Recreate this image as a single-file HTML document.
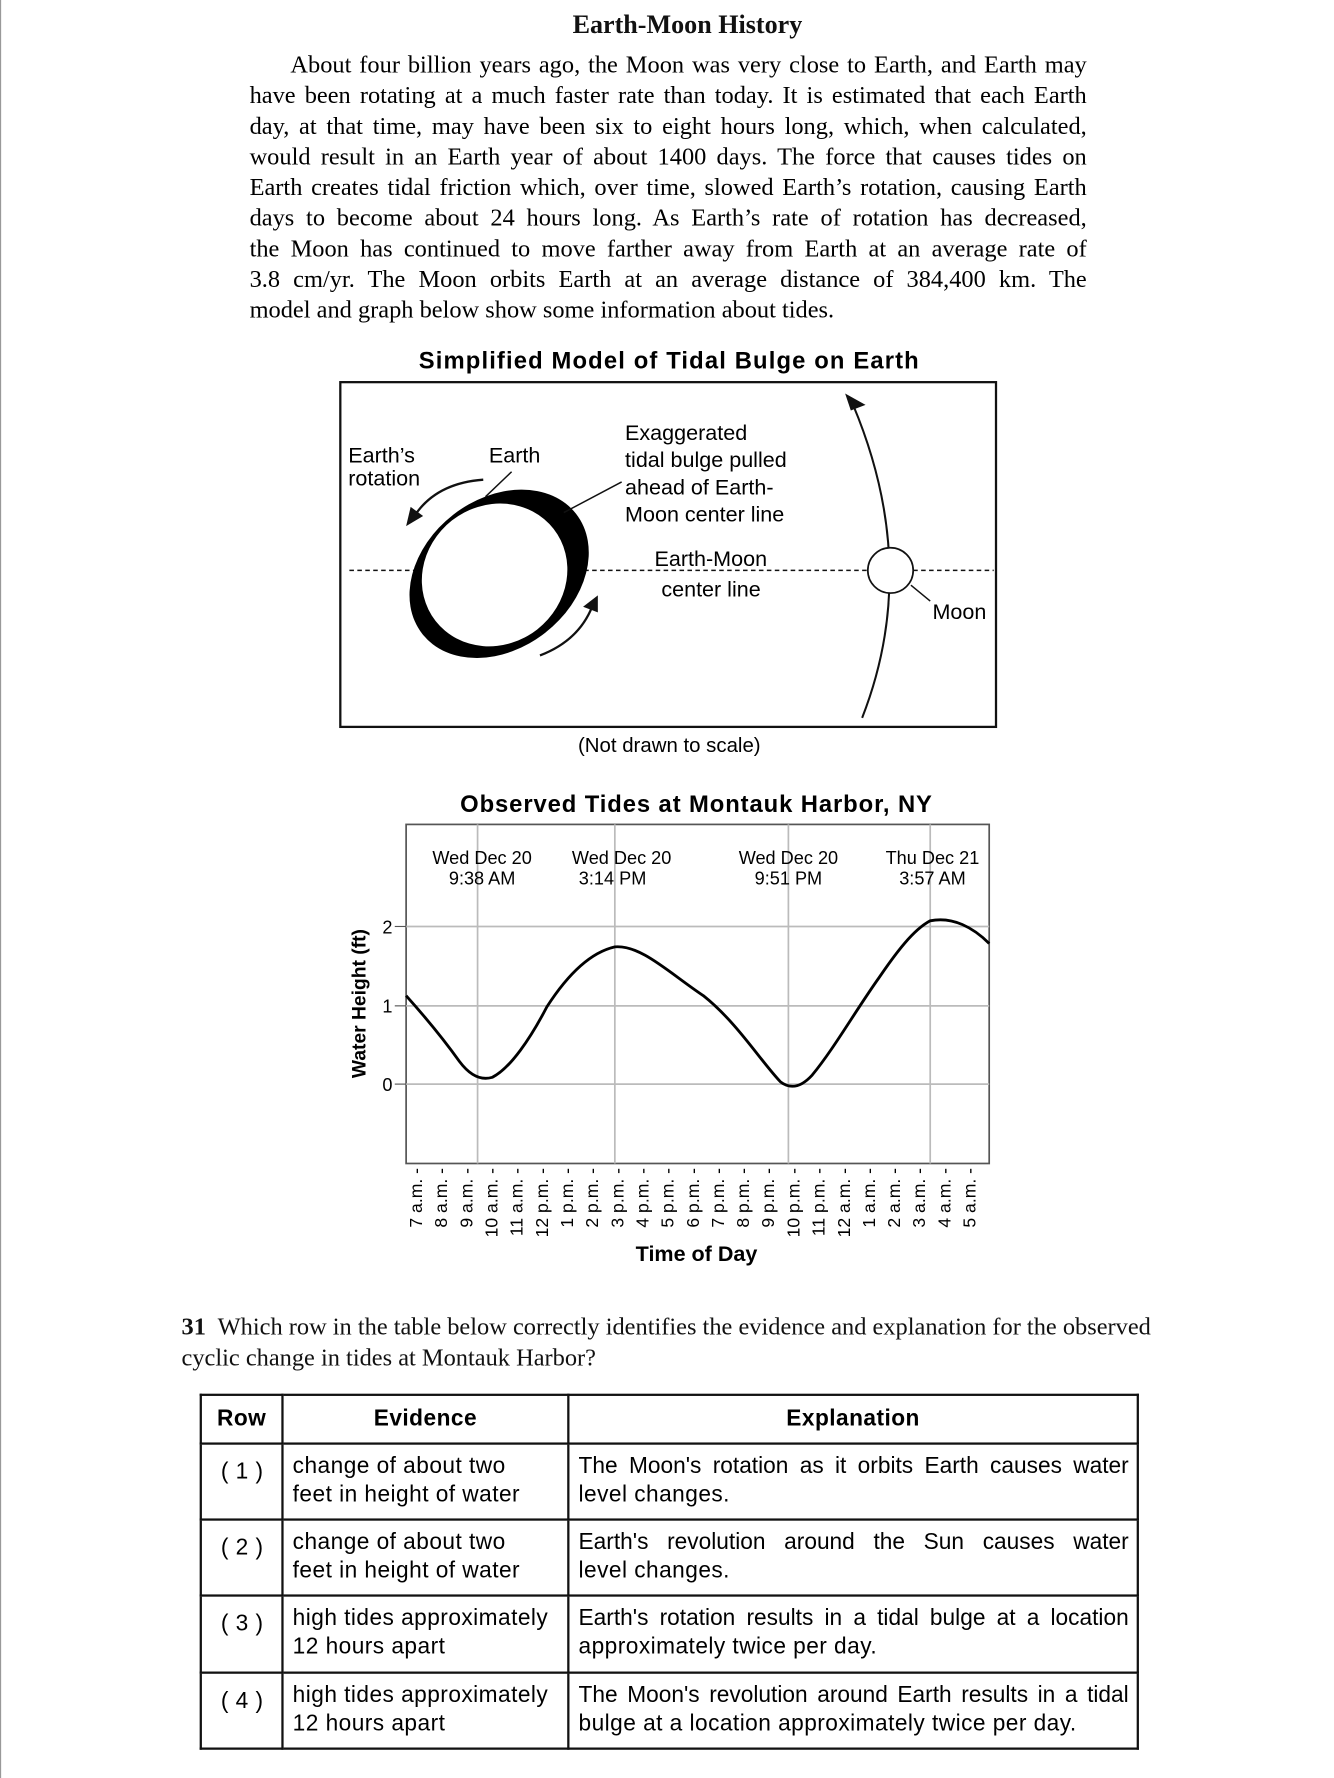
<!DOCTYPE html>
<html><head><meta charset="utf-8"><style>
html,body{margin:0;padding:0;background:#fff;}
body{width:1334px;height:1778px;overflow:hidden;position:relative;}
#w{position:absolute;left:0;top:0;width:1176px;height:1568px;transform:scale(1.1344,1.134);transform-origin:0 0;}
.a{position:absolute;white-space:nowrap;}
.ser{font-family:"Liberation Serif",serif;font-size:21.5px;color:#111;}
.p{position:absolute;left:220px;width:738px;font-family:"Liberation Serif",serif;font-size:21.5px;text-align:justify;text-align-last:justify;white-space:nowrap;line-height:27px;}
table{position:absolute;left:176px;top:1229px;width:828px;border-collapse:collapse;table-layout:fixed;font-family:"Liberation Sans",sans-serif;font-size:20px;letter-spacing:0.4px;}
td{border:2px solid #111;vertical-align:top;line-height:25px;padding:7px 7px 0 8px;}
.j{text-align:justify;text-align-last:justify;white-space:nowrap;letter-spacing:0;}
.n{white-space:nowrap;}
</style></head><body><div id="w">
<div style="position:absolute;left:0;top:0;width:1px;height:1568px;background:#999"></div>
<div class="a ser" style="left:0;width:1212px;text-align:center;top:9px;font-weight:bold;font-size:23px;">Earth-Moon History</div>
<div class="p" style="top:44px;left:256px;width:702px;">About four billion years ago, the Moon was very close to Earth, and Earth may</div>
<div class="p" style="top:71px;">have been rotating at a much faster rate than today. It is estimated that each Earth</div>
<div class="p" style="top:98px;">day, at that time, may have been six to eight hours long, which, when calculated,</div>
<div class="p" style="top:125px;">would result in an Earth year of about 1400 days. The force that causes tides on</div>
<div class="p" style="top:152px;">Earth creates tidal friction which, over time, slowed Earth’s rotation, causing Earth</div>
<div class="p" style="top:179px;">days to become about 24 hours long. As Earth’s rate of rotation has decreased,</div>
<div class="p" style="top:206px;">the Moon has continued to move farther away from Earth at an average rate of</div>
<div class="p" style="top:233px;">3.8 cm/yr. The Moon orbits Earth at an average distance of 384,400 km. The</div>
<div class="p" style="top:260px;text-align-last:left;">model and graph below show some information about tides.</div>

<svg style="position:absolute;left:0;top:0" width="1176" height="1568" font-family="Liberation Sans, sans-serif">
<text x="590" y="325" text-anchor="middle" font-weight="bold" font-size="21" letter-spacing="1">Simplified Model of Tidal Bulge on Earth</text>
<rect x="300" y="337" width="578" height="304" fill="none" stroke="#111" stroke-width="2"/>
<g stroke="#111" stroke-width="1.3" stroke-dasharray="4,3"><line x1="308" y1="503" x2="385" y2="503"/><line x1="515" y1="503" x2="765" y2="503"/><line x1="805" y1="503" x2="876" y2="503"/></g>
<ellipse cx="440" cy="506" rx="86" ry="66" transform="rotate(-38 440 506)" fill="#000"/>
<ellipse cx="436" cy="507" rx="66" ry="61" transform="rotate(-38 436 507)" fill="#fff"/>
<g font-size="19"><text x="307" y="408">Earth’s</text><text x="307" y="428">rotation</text><text x="431" y="408">Earth</text>
<text x="551" y="388">Exaggerated</text><text x="551" y="412">tidal bulge pulled</text><text x="551" y="436">ahead of Earth-</text><text x="551" y="460">Moon center line</text>
<text x="577" y="499">Earth-Moon</text><text x="583" y="526">center line</text><text x="822" y="546">Moon</text>
<text x="590" y="663" text-anchor="middle" font-size="18">(Not drawn to scale)</text></g>
<g stroke="#111" stroke-width="1.3" fill="none"><line x1="451" y1="416" x2="428" y2="438"/><line x1="548" y1="425" x2="497" y2="452"/><line x1="803" y1="516" x2="820" y2="530"/>
<path d="M426,423 Q385,426 366,454" stroke-width="2"/><path d="M476,578 Q510,565 522,535" stroke-width="2"/>
<path d="M760,633 Q812,500 752,357" stroke-width="1.8"/></g>
<polygon points="358,464 362,447 373,455" fill="#111"/><polygon points="527,525 514,535 527,540" fill="#111"/>
<polygon points="745,347 763,357 750,362" fill="#111"/>
<circle cx="785" cy="503" r="20" fill="#fff" stroke="#111" stroke-width="1.5"/>

<text x="614" y="716" text-anchor="middle" font-weight="bold" font-size="21" letter-spacing="0.8">Observed Tides at Montauk Harbor, NY</text>
<rect x="358" y="727" width="514" height="299" fill="none" stroke="#555" stroke-width="1.5"/>
<g stroke="#bbb" stroke-width="1.5"><line x1="421" y1="727" x2="421" y2="1026"/><line x1="542" y1="727" x2="542" y2="1026"/><line x1="695" y1="727" x2="695" y2="1026"/><line x1="820" y1="727" x2="820" y2="1026"/>
<line x1="358" y1="817" x2="872" y2="817"/><line x1="358" y1="887" x2="872" y2="887"/><line x1="358" y1="956" x2="872" y2="956"/></g>
<g font-size="16" text-anchor="middle"><text x="425" y="762">Wed Dec 20</text><text x="425" y="780">9:38 AM</text><text x="548" y="762">Wed Dec 20</text><text x="540" y="780">3:14 PM</text>
<text x="695" y="762">Wed Dec 20</text><text x="695" y="780">9:51 PM</text><text x="822" y="762">Thu Dec 21</text><text x="822" y="780">3:57 AM</text></g>
<g font-size="16" text-anchor="end"><text x="346" y="823">2</text><text x="346" y="893">1</text><text x="346" y="962">0</text></g>
<g stroke="#555"><line x1="348" y1="817" x2="358" y2="817"/><line x1="348" y1="887" x2="358" y2="887"/><line x1="348" y1="956" x2="358" y2="956"/></g>
<text transform="translate(322,885) rotate(-90)" text-anchor="middle" font-weight="bold" font-size="17">Water Height (ft)</text>
<path d="M358,878 C375,897 390,915 405,936 C414,948 424,953 434,950 C450,942 468,915 482,888 C500,860 520,840 542,835 C565,833 590,858 620,878 C650,902 670,935 688,954 C696,960 705,960 716,948 C735,925 755,890 775,862 C790,840 805,820 820,812 C840,808 858,818 872,832" fill="none" stroke="#000" stroke-width="2.5"/>
<g font-size="15.5" text-anchor="end">
<text transform="translate(372,1030) rotate(-90)">7 a.m. -</text>
<text transform="translate(394.2,1030) rotate(-90)">8 a.m. -</text>
<text transform="translate(416.4,1030) rotate(-90)">9 a.m. -</text>
<text transform="translate(438.5,1030) rotate(-90)">10 a.m. -</text>
<text transform="translate(460.7,1030) rotate(-90)">11 a.m. -</text>
<text transform="translate(482.9,1030) rotate(-90)">12 p.m. -</text>
<text transform="translate(505.1,1030) rotate(-90)">1 p.m. -</text>
<text transform="translate(527.3,1030) rotate(-90)">2 p.m. -</text>
<text transform="translate(549.5,1030) rotate(-90)">3 p.m. -</text>
<text transform="translate(571.6,1030) rotate(-90)">4 p.m. -</text>
<text transform="translate(593.8,1030) rotate(-90)">5 p.m. -</text>
<text transform="translate(616,1030) rotate(-90)">6 p.m. -</text>
<text transform="translate(638.2,1030) rotate(-90)">7 p.m. -</text>
<text transform="translate(660.4,1030) rotate(-90)">8 p.m. -</text>
<text transform="translate(682.5,1030) rotate(-90)">9 p.m. -</text>
<text transform="translate(704.7,1030) rotate(-90)">10 p.m. -</text>
<text transform="translate(726.9,1030) rotate(-90)">11 p.m. -</text>
<text transform="translate(749.1,1030) rotate(-90)">12 a.m. -</text>
<text transform="translate(771.3,1030) rotate(-90)">1 a.m. -</text>
<text transform="translate(793.5,1030) rotate(-90)">2 a.m. -</text>
<text transform="translate(815.6,1030) rotate(-90)">3 a.m. -</text>
<text transform="translate(837.8,1030) rotate(-90)">4 a.m. -</text>
<text transform="translate(860,1030) rotate(-90)">5 a.m. -</text>
</g>
<text x="614" y="1112" text-anchor="middle" font-weight="bold" font-size="19">Time of Day</text>
</svg>

<div class="a ser" style="left:160px;top:1158px;"><b>31</b>&nbsp; Which row in the table below correctly identifies the evidence and explanation for the observed</div>
<div class="a ser" style="left:160px;top:1185px;">cyclic change in tides at Montauk Harbor?</div>
<table>
<colgroup><col style="width:72px"><col style="width:252px"><col></colgroup>
<tr style="height:43px;font-weight:bold;"><td style="text-align:center;vertical-align:middle;padding:0">Row</td><td style="text-align:center;vertical-align:middle;padding:0">Evidence</td><td style="text-align:center;vertical-align:middle;padding:0">Explanation</td></tr>
<tr style="height:67px;"><td style="text-align:center;padding-top:12px">( 1 )</td><td class="n">change of about two<br>feet in height of water</td><td><div class="j">The Moon's rotation as it orbits Earth causes water</div><div class="n">level changes.</div></td></tr>
<tr style="height:67px;"><td style="text-align:center;padding-top:12px">( 2 )</td><td class="n">change of about two<br>feet in height of water</td><td><div class="j">Earth's revolution around the Sun causes water</div><div class="n">level changes.</div></td></tr>
<tr style="height:68px;"><td style="text-align:center;padding-top:12px">( 3 )</td><td class="n">high tides approximately<br>12 hours apart</td><td><div class="j">Earth's rotation results in a tidal bulge at a location</div><div class="n">approximately twice per day.</div></td></tr>
<tr style="height:67px;"><td style="text-align:center;padding-top:12px">( 4 )</td><td class="n">high tides approximately<br>12 hours apart</td><td><div class="j">The Moon's revolution around Earth results in a tidal</div><div class="n">bulge at a location approximately twice per day.</div></td></tr>
</table>
</div></body></html>
